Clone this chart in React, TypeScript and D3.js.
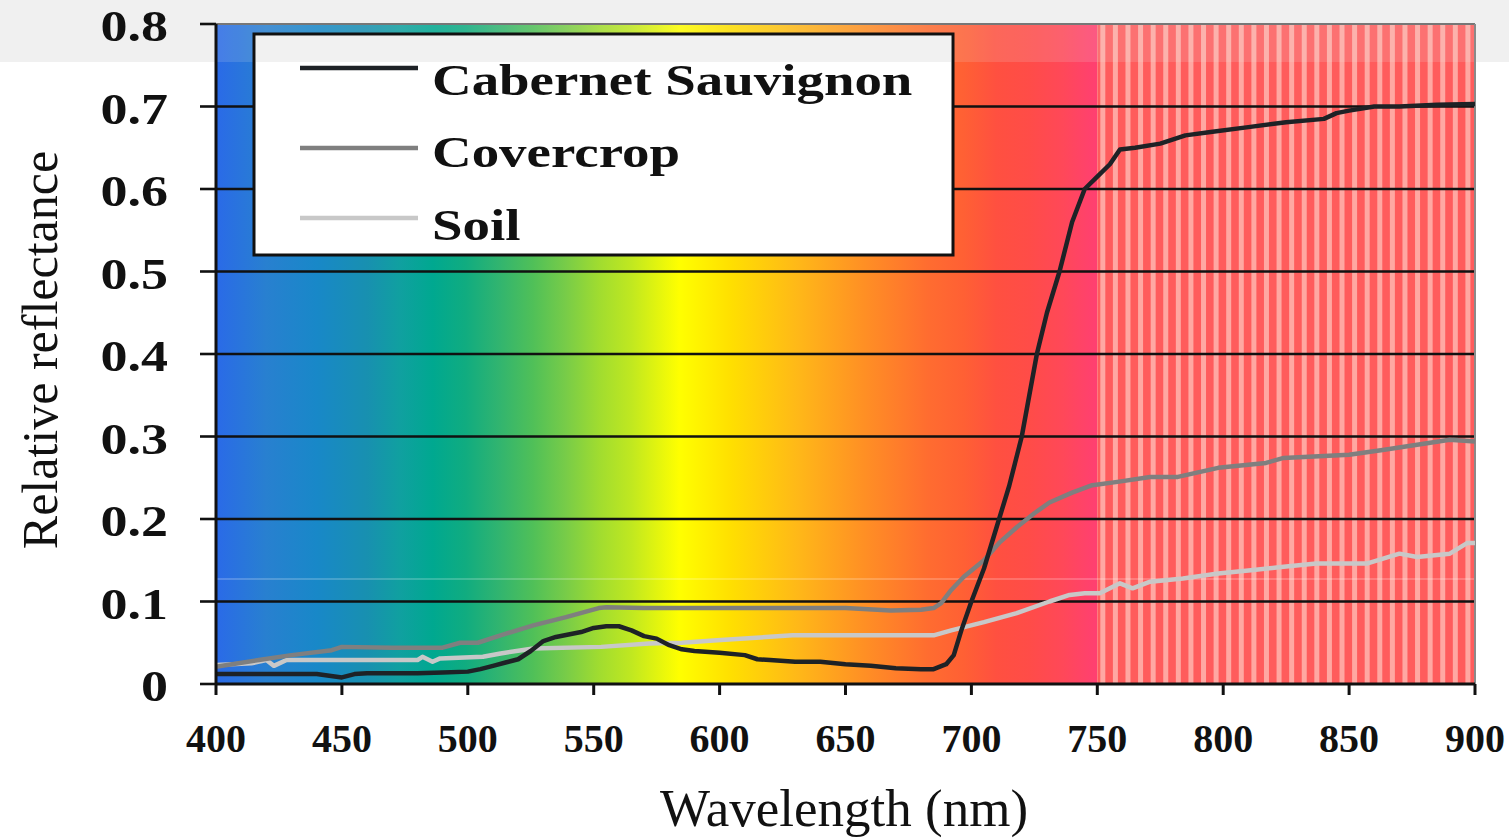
import React from "react";
import * as d3 from "d3";

const cabernet: [number, number][] = [
  [400, 0.012], [410, 0.012], [420, 0.012], [430, 0.012], [440, 0.012], [445, 0.010], [450, 0.008],
  [455, 0.012], [460, 0.013], [470, 0.013], [480, 0.013], [490, 0.014], [500, 0.015], [505, 0.018],
  [510, 0.022], [515, 0.026], [520, 0.030], [525, 0.040], [530, 0.052], [535, 0.057], [540, 0.060],
  [545, 0.063], [550, 0.068], [555, 0.070], [560, 0.070], [565, 0.065], [570, 0.058], [575, 0.055],
  [580, 0.047], [585, 0.042], [590, 0.040], [600, 0.038], [610, 0.035], [615, 0.030], [620, 0.029],
  [630, 0.027], [640, 0.027], [650, 0.024], [660, 0.022], [670, 0.019], [680, 0.018], [685, 0.018],
  [690, 0.024], [693, 0.035], [696, 0.065], [700, 0.10], [705, 0.14], [710, 0.19], [715, 0.24],
  [720, 0.30], [726, 0.40], [730, 0.45], [735, 0.50], [740, 0.56], [745, 0.60], [750, 0.615],
  [755, 0.63], [759, 0.648], [765, 0.650], [775, 0.655], [785, 0.665], [795, 0.669], [810, 0.675],
  [825, 0.681], [840, 0.685], [845, 0.692], [850, 0.695], [860, 0.700], [870, 0.700], [885, 0.702],
  [900, 0.703],
];

const covercrop: [number, number][] = [
  [400, 0.021], [417, 0.029], [430, 0.035], [446, 0.041], [450, 0.045], [470, 0.044], [490, 0.044],
  [497, 0.050], [504, 0.050], [513, 0.059], [526, 0.071], [539, 0.081], [552, 0.092], [555, 0.093],
  [570, 0.092], [590, 0.092], [610, 0.092], [630, 0.092], [650, 0.092], [668, 0.089], [680, 0.090],
  [685, 0.092], [688, 0.098], [692, 0.114], [697, 0.130], [705, 0.150], [711, 0.171], [718, 0.190],
  [725, 0.207], [731, 0.220], [740, 0.232], [748, 0.241], [758, 0.245], [771, 0.251], [782, 0.251],
  [798, 0.262], [817, 0.268], [824, 0.274], [850, 0.278], [864, 0.284], [877, 0.290], [890, 0.296],
  [900, 0.294],
];

const soil: [number, number][] = [
  [400, 0.023], [414, 0.025], [420, 0.029], [423, 0.022], [428, 0.029], [450, 0.029], [480, 0.029],
  [482, 0.033], [486, 0.027], [489, 0.031], [506, 0.033], [513, 0.037], [526, 0.043], [553, 0.045],
  [572, 0.049], [585, 0.050], [599, 0.053], [629, 0.059], [660, 0.059], [685, 0.059], [692, 0.065],
  [705, 0.075], [718, 0.086], [731, 0.100], [739, 0.108], [745, 0.110], [751, 0.110], [759, 0.122],
  [764, 0.116], [771, 0.124], [784, 0.128], [798, 0.134], [811, 0.138], [824, 0.142], [837, 0.146],
  [857, 0.146], [870, 0.158], [877, 0.154], [890, 0.158], [897, 0.171], [900, 0.171],
];

const seriesNames = ["Cabernet Sauvignon", "Covercrop", "Soil"];
const seriesColors = ["#1e2226", "#7f7f7f", "#c8c8c8"];
const xTicks = [400, 450, 500, 550, 600, 650, 700, 750, 800, 850, 900];
const yTicks = [0, 0.1, 0.2, 0.3, 0.4, 0.5, 0.6, 0.7, 0.8];
const yTickLabels = ["0", "0.1", "0.2", "0.3", "0.4", "0.5", "0.6", "0.7", "0.8"];

const spectrumStops: [number, string][] = [
  [400, "#2a6ae8"], [420, "#2880d0"], [440, "#1888c8"], [460, "#1890b0"], [473, "#10a0a0"],
  [486, "#00a890"], [499, "#10ac80"], [512, "#30b470"], [526, "#50c058"], [539, "#78cc48"],
  [552, "#a0dc30"], [565, "#c0e820"], [584, "#ffff00"], [604, "#ffe000"], [631, "#ffb818"],
  [657, "#ff9024"], [683, "#ff6c30"], [697, "#ff6034"], [710, "#ff5040"], [723, "#ff4c48"],
  [736, "#ff4858"], [749, "#ff4070"],
];

const FONT = "'Liberation Serif', 'Times New Roman', serif";

export default function App() {
  const x = d3.scaleLinear().domain([400, 900]).range([216, 1475]);
  const y = d3.scaleLinear().domain([0, 0.8]).range([684, 24]);
  const line = d3
    .line<[number, number]>()
    .x((d) => x(d[0]))
    .y((d) => y(d[1]))
    .curve(d3.curveLinear);
  const series = [cabernet, covercrop, soil];
  const stripeNm = d3.range(750, 900, 5);
  const gx0 = x(400);
  const gx1 = x(750);

  return (
    <svg
      width={1509}
      height={840}
      style={{ position: "absolute", left: 0, top: 0, display: "block" }}
      fontFamily={FONT}
    >
      <defs>
        <linearGradient id="spec" gradientUnits="userSpaceOnUse" x1={gx0} x2={gx1} y1={0} y2={0}>
          {spectrumStops.map(([nm, c], i) => (
            <stop key={i} offset={(nm - 400) / 350} stopColor={c} />
          ))}
        </linearGradient>
      </defs>
      <rect x={0} y={0} width={1509} height={840} fill="#ffffff" />
      <rect x={0} y={0} width={1509} height={62} fill="#f0f0f0" />

      {/* spectrum background */}
      <rect x={gx0} y={y(0.8)} width={gx1 - gx0} height={y(0) - y(0.8)} fill="url(#spec)" />
      <rect x={gx1} y={y(0.8)} width={x(900) - gx1} height={y(0) - y(0.8)} fill="#ff5c5c" />
      {stripeNm.map((nm) => (
        <rect
          key={nm}
          x={x(nm) + 3}
          y={y(0.8)}
          width={5}
          height={y(0) - y(0.8)}
          fill="#ffa8a2"
        />
      ))}
      {/* faint scan artifacts */}
      <rect x={gx0} y={y(0.8)} width={x(900) - gx0} height={62 - y(0.8)} fill="#e8e8e8" opacity={0.15} />
      <line x1={gx0} x2={x(900)} y1={579} y2={579} stroke="#ffffff" strokeWidth={2} opacity={0.2} />

      {/* grid lines */}
      {yTicks.slice(1, 8).map((t) => (
        <line key={t} x1={x(400)} x2={x(900)} y1={y(t)} y2={y(t)} stroke="#111" strokeWidth={2.6} />
      ))}
      {/* frame */}
      <line x1={x(400)} x2={x(900)} y1={y(0.8)} y2={y(0.8)} stroke="#777" strokeWidth={2} />
      <line x1={x(900)} x2={x(900)} y1={y(0.8)} y2={y(0)} stroke="#8a8a8a" strokeWidth={2} />

      {/* series */}
      {[2, 1, 0].map((i) => (
        <path
          key={i}
          d={line(series[i]) || ""}
          fill="none"
          stroke={seriesColors[i]}
          strokeWidth={4.5}
          strokeLinejoin="round"
        />
      ))}

      {/* axes */}
      <line x1={x(400)} x2={x(400)} y1={y(0.8)} y2={y(0) + 1} stroke="#111" strokeWidth={3} />
      <line x1={x(400) - 1} x2={x(900)} y1={y(0)} y2={y(0)} stroke="#111" strokeWidth={3} />
      {yTicks.map((t) => (
        <line key={t} x1={x(400) - 16} x2={x(400)} y1={y(t)} y2={y(t)} stroke="#111" strokeWidth={2.6} />
      ))}
      {xTicks.map((t) => (
        <line key={t} x1={x(t)} x2={x(t)} y1={y(0)} y2={y(0) + 11} stroke="#111" strokeWidth={3} />
      ))}

      {/* y tick labels */}
      {yTicks.map((t, i) => (
        <text
          key={t}
          transform={`translate(168, ${y(t) + 17}) scale(1.2, 1)`}
          textAnchor="end"
          fontSize={45}
          fontWeight="bold"
          fill="#111"
        >
          {yTickLabels[i]}
        </text>
      ))}
      {/* x tick labels */}
      {xTicks.map((t) => (
        <text key={t} x={x(t)} y={752} textAnchor="middle" fontSize={40} fontWeight="bold" fill="#111">
          {t}
        </text>
      ))}

      {/* axis titles */}
      <text
        transform={`translate(57, 350) rotate(-90)`}
        textAnchor="middle"
        fontSize={50}
        fill="#111"
      >
        Relative reflectance
      </text>
      <text x={844} y={826} textAnchor="middle" fontSize={53} fill="#111">
        Wavelength (nm)
      </text>

      {/* legend */}
      <rect x={254} y={34} width={699} height={221} fill="#ffffff" stroke="#111" strokeWidth={3} />
      <rect x={256} y={36} width={695} height={26} fill="#f0f0f0" opacity={0.9} />
      {seriesNames.map((name, i) => {
        const ly = [68, 148, 218][i];
        const ty = [95, 167, 240][i];
        return (
          <g key={name}>
            <line x1={300} x2={418} y1={ly} y2={ly} stroke={seriesColors[i]} strokeWidth={4.5} />
            <text
              transform={`translate(432, ${ty}) scale(1.22, 1)`}
              fontSize={45}
              fontWeight="bold"
              fill="#111"
            >
              {name}
            </text>
          </g>
        );
      })}
    </svg>
  );
}
